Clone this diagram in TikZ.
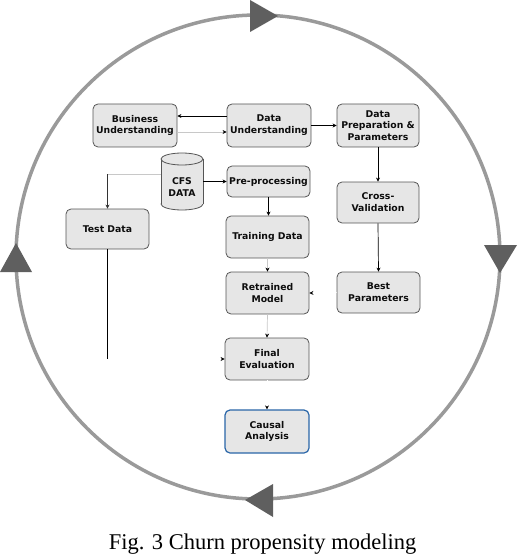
\documentclass[tikz,border=0pt]{standalone}
\usepackage{fontspec}
\setmainfont{Liberation Serif}
\newfontfamily\boxfont{DejaVu Sans}
\usetikzlibrary{arrows.meta,calc}
\definecolor{boxfill}{HTML}{E6E6E6}
\definecolor{boxline}{HTML}{555555}
\definecolor{ringcol}{HTML}{9A9A9A}
\definecolor{tricol}{HTML}{5F5F5F}
\definecolor{faint}{HTML}{C8C8C8}
\definecolor{bluebd}{HTML}{2A66A8}
\tikzset{
  procbox/.style={draw=boxline, fill=boxfill, rounded corners=5pt, line width=0.8pt,
    inner sep=0pt, align=center, text=black!95,
    font=\boxfont\bfseries\fontsize{9.3}{11.8}\selectfont},
  arr/.style={line width=0.7pt, -{Stealth[length=4pt,width=4pt]}},
  grayarr/.style={line width=0.7pt, draw=faint, -{Stealth[length=4pt,width=4pt,color=black]}},
  hidarr/.style={line width=0.7pt, draw=white, -{Stealth[length=4pt,width=4pt,color=black]}},
  tri/.style={fill=tricol, draw=none}
}
\begin{document}
\begin{tikzpicture}[x=1pt,y=-1pt]
\useasboundingbox (0,0) rectangle (518,556);
% ring
\draw[ringcol, line width=3.5pt] (258,257) circle[radius=242];
\fill[tri] (250,0) -- (250,32) -- (278,16) -- cycle;
\fill[tri] (484,245) -- (517,245) -- (500,273) -- cycle;
\fill[tri] (273,484) -- (273,517) -- (245,500) -- cycle;
\fill[tri] (0,272) -- (32,272) -- (16,243) -- cycle;

% boxes
\node[procbox, minimum width=84pt, minimum height=43pt] (bu) at (135,125.5) {Business\\Understanding};
\node[procbox, minimum width=84pt, minimum height=43pt] (du) at (269,125.5) {Data\\Understanding};
\node[procbox, minimum width=82pt, minimum height=43pt] (dp) at (378,125.5) {Data\\Preparation \&\\Parameters};
\node[procbox, minimum width=83pt, minimum height=31pt] (pre) at (268.5,181.5) {Pre-processing};
\node[procbox, minimum width=83pt, minimum height=40pt] (test) at (107.5,229) {Test Data};
\node[procbox, minimum width=83pt, minimum height=42pt] (train) at (267.5,237) {Training Data};
\node[procbox, minimum width=82pt, minimum height=41pt] (cv) at (378,202.5) {Cross-\\Validation};
\node[procbox, minimum width=83pt, minimum height=42pt] (ret) at (267.5,293) {Retrained\\Model};
\node[procbox, minimum width=83pt, minimum height=41pt] (bp) at (378.5,292.5) {Best\\Parameters};
\node[procbox, minimum width=84pt, minimum height=42pt] (fin) at (267,359) {Final\\Evaluation};
\node[procbox, draw=bluebd, line width=1.2pt, minimum width=84pt, minimum height=43pt] (ca) at (267,431.5) {Causal\\Analysis};

% CFS DATA cylinder
\filldraw[draw=boxline, fill=boxfill, line width=0.8pt] (182,204) ellipse[x radius=21, y radius=6];
\fill[boxfill] (161,159) rectangle (203,204);
\draw[boxline, line width=0.8pt] (161,159) -- (161,204) (203,159) -- (203,204);
\filldraw[draw=boxline, fill=boxfill, line width=0.8pt] (182,159) ellipse[x radius=21, y radius=6];
\node[inner sep=0pt, minimum width=42pt, minimum height=57pt, align=center,
  font=\boxfont\bfseries\fontsize{9.3}{11.8}\selectfont, text=black!95] (cfs) at (182,187) {CFS\\DATA};

% connectors
\draw[arr] ($(du.west)+(0,-9.5)$) -- ($(bu.east)+(0,-9.5)$);
\draw[grayarr] ($(bu.east)+(0,6.5)$) -- ($(du.west)+(0,6.5)$);
\draw[arr] (du.east) -- (dp.west);
\draw[arr] (dp.south) -- (cv.north);
\draw[arr] (cv.south) -- (bp.north);
\draw[arr] (cfs.east |- pre.west) -- (pre.west);
\coordinate (cfsleft) at (161,174);
\coordinate (tcorner) at (test.north |- cfsleft);
\draw[faint, line width=0.7pt] (cfsleft) -- (tcorner);
\draw[arr, draw=black!80] (tcorner) -- (test.north);
\draw[arr] (pre.south) -- (pre.south |- train.north);
\draw[grayarr] (train.south) -- (ret.north);
\draw[grayarr] (ret.south) -- (fin.north);
\draw[hidarr] (fin.south) -- (ca.north);
\draw[hidarr] (bp.west) -- (ret.east);
\coordinate (tbottom) at (test.south |- fin.west);
\draw[line width=0.7pt] (test.south) -- (tbottom);
\draw[hidarr] (tbottom) -- (fin.west);

% caption
\node[anchor=base, inner sep=0pt, font=\fontsize{22.5}{27}\selectfont] (cap) at (262.5,549) {Fig. 3 Churn propensity modeling};
\end{tikzpicture}
\end{document}
